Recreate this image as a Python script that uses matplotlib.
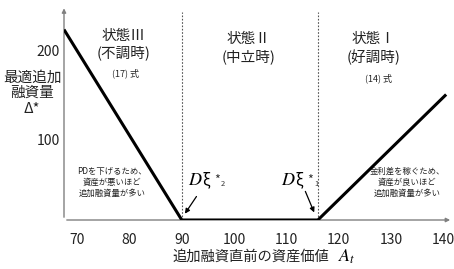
import matplotlib.pyplot as plt

plt.rcParams['font.family'] = ['Noto Sans CJK JP', 'DejaVu Sans']
plt.rcParams['mathtext.fontset'] = 'stix'

# data
lineX = [67.5, 90, 116, 140.5]
lineY = [223, 9, 9, 150]
xticks = [70, 80, 90, 100, 110, 120, 130, 140]
yticks = [100, 200]
borders = [90, 116]
stateNames = ['状態Ⅲ\n(不調時)', '状態Ⅱ\n(中立時)', '状態Ⅰ\n(好調時)']
stateX = [78.8, 102.7, 126.6]
stateY = [224, 220, 220]
eqNames = ['(17) 式', '', '(14) 式']
eqX = [79.2, 0, 127.6]
eqY = [174, 0, 168]

fig = plt.figure(figsize=(4.54, 2.69), dpi=100)
ax = fig.add_axes([64 / 454, 49 / 269, 390 / 454, 216 / 269])
ax.set_xlim(67.5, 142.0)
ax.set_ylim(9, 251.7)
for s in ax.spines.values():
    s.set_visible(False)

# axes with arrow heads
gray = '#808080'
ax.annotate('', xy=(141.8, 9), xytext=(67.5, 9),
            arrowprops=dict(arrowstyle='-|>', color=gray, lw=1.0, mutation_scale=6))
ax.annotate('', xy=(67.5, 250), xytext=(67.5, 9),
            arrowprops=dict(arrowstyle='-|>', color=gray, lw=1.0, mutation_scale=6))

# regime boundaries
for b in borders:
    ax.plot([b, b], [9, 243], color='#555555', lw=0.8, ls=(0, (1.5, 1.5)))

ax.plot(lineX, lineY, color='black', lw=2.2, solid_capstyle='butt', zorder=5)

ax.set_xticks(xticks)
ax.set_yticks(yticks)
ax.tick_params(length=0, labelsize=10, colors='#222222')
ax.tick_params(axis='x', pad=9)
ax.tick_params(axis='y', pad=3)

for name, x, y in zip(stateNames, stateX, stateY):
    ax.text(x, y, name, ha='center', va='top', fontsize=10.5, linespacing=1.25, color='#222222')
for name, x, y in zip(eqNames, eqX, eqY):
    if name:
        ax.text(x, y, name, ha='center', va='center', fontsize=6.5, color='#222222')

ax.text(76.7, 51, 'PDを下げるため、\n資産が悪いほど\n追加融資量が多い', ha='center', va='center',
        fontsize=6, linespacing=1.3, color='#222222')
ax.text(133.1, 51, '金利差を稼ぐため、\n資産が良いほど\n追加融資量が多い', ha='center', va='center',
        fontsize=6, linespacing=1.3, color='#222222')

# D xi labels with arrows
for x0, sub in [(91.2, '2'), (109.0, '1')]:
    ax.text(x0, 54, r'$D$', fontsize=13, va='center', ha='left')
    ax.text(x0 + 2.7, 54, 'ξ', fontsize=11, va='center', ha='left')
    ax.text(x0 + 5.0, 54, '*', fontsize=9, va='center', color='#333333')
    ax.text(x0 + 6.3, 50, sub, fontsize=5.5, va='center', color='#333333')
ax.annotate('', xy=(90.3, 13.5), xytext=(93.1, 38),
            arrowprops=dict(arrowstyle='-|>', color='black', lw=0.9, mutation_scale=7))
ax.annotate('', xy=(115.5, 14.6), xytext=(113.4, 44),
            arrowprops=dict(arrowstyle='-|>', color='black', lw=0.9, mutation_scale=7))

fig.text(32 / 454, 1 - 93 / 269, '最適追加\n融資量\nΔ*', ha='center', va='center',
         fontsize=10.5, linespacing=1.15, color='#222222')
fig.text(172 / 454, 1 - 257 / 269, '追加融資直前の資産価値', ha='left', va='center',
         fontsize=10.3, color='#222222')
fig.text(338 / 454, 1 - 257 / 269, r'$A_t$', ha='left', va='center', fontsize=13)

fig.savefig('out.png', dpi=100)
